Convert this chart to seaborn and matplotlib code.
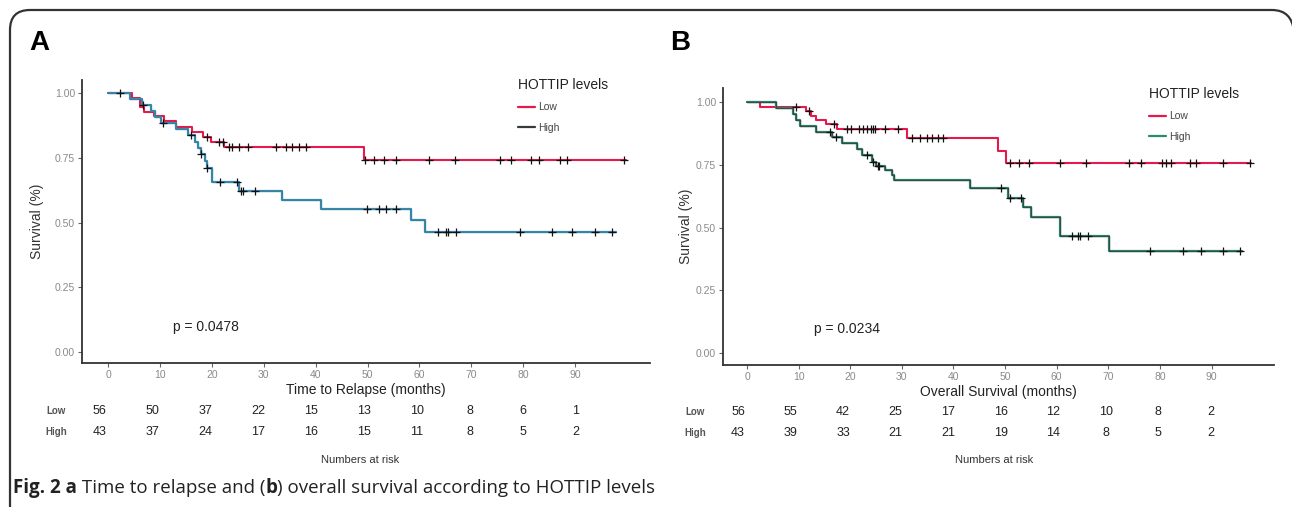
import numpy as np
import pandas as pd
import matplotlib
matplotlib.use("Agg")
import matplotlib.pyplot as plt
import seaborn as sns
import matplotlib.transforms as mtransforms
from matplotlib.lines import Line2D
from matplotlib.patches import PathPatch
from matplotlib.path import Path
from matplotlib.offsetbox import TextArea, HPacker, AnchoredOffsetbox

# ---------------- data ----------------
# Panel A: time to relapse
a_low_t = [0, 4.5, 6.1, 6.8, 8.7, 10.7, 13.0, 16.2, 18.2, 19.8, 22.3, 49.3]
a_low_s = [1.0, 0.982, 0.946, 0.928, 0.910, 0.890, 0.870, 0.850, 0.830, 0.810, 0.790, 0.740]
a_low_end = 99.9
a_low_cens = [19.0, 21.4, 22.2, 23.2, 23.9, 25.1, 26.9, 32.3, 34.3, 35.5, 36.7, 38.1,
              49.6, 51.2, 53.1, 55.5, 61.9, 66.8, 75.5, 77.6, 81.5, 83.1, 87.2, 88.5, 99.5]

a_high_t = [0, 4.2, 6.5, 8.2, 9.0, 10.2, 13.0, 15.4, 16.7, 17.3, 17.8, 18.6, 19.1, 19.9,
            25.1, 33.5, 41.1, 58.3, 61.1]
a_high_s = [1.0, 0.977, 0.953, 0.930, 0.907, 0.884, 0.860, 0.837, 0.812, 0.787, 0.764,
            0.738, 0.712, 0.655, 0.623, 0.588, 0.553, 0.508, 0.462]
a_high_end = 97.9
a_high_cens = [2.25, 6.7, 10.6, 15.9, 17.8, 19.1, 21.5, 24.8, 25.5, 25.9, 28.3, 49.9, 52.3,
               53.5, 55.5, 63.5, 65.1, 65.6, 67.1, 79.5, 85.5, 89.5, 93.9, 97.1]

# Panel B: overall survival
b_low_t = [0, 2.5, 11.4, 12.4, 13.3, 15.3, 17.5, 31.0, 48.6, 50.2]
b_low_s = [1.0, 0.982, 0.964, 0.946, 0.930, 0.912, 0.892, 0.858, 0.806, 0.756]
b_low_end = 97.7
b_low_cens = [9.4, 12.0, 16.9, 19.3, 20.1, 21.7, 22.5, 23.3, 24.1, 24.5, 24.8, 26.8, 29.2,
              32.0, 33.6, 34.8, 35.9, 37.1, 37.9, 51.0, 52.6, 54.6, 60.6, 65.7, 74.1, 76.4,
              80.4, 81.2, 82.2, 85.8, 86.9, 92.3, 97.5]

b_high_t = [0, 5.6, 8.9, 9.4, 10.2, 13.3, 16.5, 18.5, 21.3, 22.3, 24.2, 25.0, 26.8, 28.1,
            28.4, 43.3, 50.6, 53.4, 55.0, 60.6, 70.1]
b_high_s = [1.0, 0.977, 0.953, 0.930, 0.905, 0.882, 0.859, 0.835, 0.812, 0.787, 0.763,
            0.745, 0.728, 0.710, 0.689, 0.656, 0.616, 0.580, 0.543, 0.466, 0.408]
b_high_end = 95.9
b_high_cens = [16.1, 17.3, 23.3, 24.5, 25.3, 25.6, 49.3, 50.9, 53.0, 62.9, 64.1, 64.5, 66.1,
               78.0, 84.4, 87.9, 92.3, 95.5]

risk_times = [0, 10, 20, 30, 40, 50, 60, 70, 80, 90]
a_low_risk = [56, 50, 37, 22, 15, 13, 10, 8, 6, 1]
a_high_risk = [43, 37, 24, 17, 16, 15, 11, 8, 5, 2]
b_low_risk = [56, 55, 42, 25, 17, 16, 12, 10, 8, 2]
b_high_risk = [43, 39, 33, 21, 21, 19, 14, 8, 5, 2]

groups = ["Low", "High"]
x_ticks = [0, 10, 20, 30, 40, 50, 60, 70, 80, 90]
y_ticks = [0.0, 0.25, 0.5, 0.75, 1.0]
y_tick_labels = ["0.00", "0.25", "0.50", "0.75", "1.00"]
legend_title = "HOTTIP levels"
p_a = "p = 0.0478"
p_b = "p = 0.0234"
xlabel_a = "Time to Relapse (months)"
xlabel_b = "Overall Survival (months)"
ylabel = "Survival (%)"

RED = "#E5194B"
BLUE = "#3F83C0"
TEAL = "#2A8A70"
DARK = "#333B3B"

# ---------------- helpers ----------------
def step_frame(t, s, end):
    return pd.DataFrame({"t": list(t) + [end], "s": list(s) + [s[-1]]})

def censor_frame(ct, t, s):
    idx = np.searchsorted(np.asarray(t), np.asarray(ct), side="right") - 1
    return pd.DataFrame({"t": ct, "s": np.asarray(s)[idx]})

sns.set_theme(style="white")
plt.rcParams["font.family"] = ["Liberation Sans", "DejaVu Sans"]

W, H = 1292, 507
fig = plt.figure(figsize=(W / 100, H / 100), dpi=100)
fig.patch.set_facecolor("white")

def fx(px):
    return px / W

def fy(py):
    return 1 - py / H

def panel(rect_px, xlim, ylim, curves, high_legend_color, legend_px, ptext, ppos,
          xlabel, ylabelpad, risk_rect_px, risk_xlim, risk_rows, risk_y_px, nar_px, letter, letter_px):
    l, t, r, b = rect_px
    ax = fig.add_axes([fx(l), fy(b), fx(r) - fx(l), fy(t) - fy(b)])
    for (tt, ss, end, cens, layers) in curves:
        df = step_frame(tt, ss, end)
        for col, lw, al in layers:
            sns.lineplot(data=df, x="t", y="s", drawstyle="steps-post", estimator=None,
                         color=col, linewidth=lw, alpha=al, ax=ax, legend=False)
        cdf = censor_frame(cens, tt, ss)
        sns.scatterplot(data=cdf, x="t", y="s", marker="+", s=30, color="#111111",
                        linewidth=0.9, ax=ax, legend=False, zorder=5)
    ax.set_xlim(*xlim)
    ax.set_ylim(*ylim)
    ax.set_xticks(x_ticks)
    ax.set_yticks(y_ticks)
    ax.set_yticklabels(y_tick_labels)
    for sp in ["top", "right"]:
        ax.spines[sp].set_visible(False)
    for sp in ["left", "bottom"]:
        ax.spines[sp].set_color("#333333")
        ax.spines[sp].set_linewidth(1.3)
    ax.tick_params(axis="both", which="both", length=3, width=0.8, color="#666666",
                   labelsize=7.5, labelcolor="#8a8a8a", pad=2, bottom=True, left=True)
    ax.set_xlabel(xlabel, fontsize=10, color="#222222", labelpad=2)
    ax.set_ylabel(ylabel, fontsize=10, color="#333333", labelpad=ylabelpad)
    ax.text(ppos[0], ppos[1], ptext, fontsize=10, color="#222222", ha="left", va="center")

    handles = [Line2D([], [], color=RED, lw=1.6), Line2D([], [], color=high_legend_color, lw=1.6)]
    leg = ax.legend(handles, groups, title=legend_title, loc="upper left",
                    bbox_to_anchor=(fx(legend_px[0]), fy(legend_px[1])),
                    bbox_transform=fig.transFigure, frameon=False, fontsize=7.5,
                    title_fontsize=10, handlelength=1.6, handletextpad=0.3,
                    labelspacing=1.0, borderpad=0, borderaxespad=0, alignment="left")
    leg.get_title().set_color("#222222")
    for txt in leg.get_texts():
        txt.set_color("#444444")

    # risk table
    rl, rr = risk_rect_px
    rax = fig.add_axes([fx(rl), 0.0, fx(rr) - fx(rl), 0.01])
    rax.set_xlim(*risk_xlim)
    rax.axis("off")
    tr = mtransforms.blended_transform_factory(rax.transData, fig.transFigure)
    for (name, vals), ypx in zip(risk_rows, risk_y_px):
        rax.text(-8.2, fy(ypx), name, transform=tr, fontsize=7, fontweight="bold",
                 color="#555555", ha="center", va="center", clip_on=False)
        for tv, v in zip(risk_times, vals):
            rax.text(tv, fy(ypx), str(v), transform=tr, fontsize=9, color="#222222",
                     ha="center", va="center", clip_on=False)
    fig.text(fx(nar_px[0]), fy(nar_px[1]), "Numbers at risk", fontsize=8,
             color="#333333", ha="center", va="center")
    fig.text(fx(letter_px[0]), fy(letter_px[1]), letter, fontsize=20, fontweight="bold",
             color="black", ha="left", va="center")
    return ax

# Panel A
panel(rect_px=(82, 80, 650, 363), xlim=(-5.1, 104.5), ylim=(-0.042, 1.05),
      curves=[(a_low_t, a_low_s, a_low_end, a_low_cens, [(RED, 1.5, 1.0)]),
              (a_high_t, a_high_s, a_high_end, a_high_cens,
               [(BLUE, 1.6, 1.0), (TEAL, 0.9, 0.6)])],
      high_legend_color=DARK, legend_px=(518, 78), ptext=p_a, ppos=(12.4, 0.097),
      xlabel=xlabel_a, ylabelpad=8, risk_rect_px=(82, 650), risk_xlim=(-3.31, 104.1),
      risk_rows=[("Low", a_low_risk), ("High", a_high_risk)], risk_y_px=(411, 432),
      nar_px=(360, 460), letter="A", letter_px=(29, 43))

# Panel B
panel(rect_px=(723, 88, 1274, 365), xlim=(-4.65, 102.1), ylim=(-0.048, 1.056),
      curves=[(b_low_t, b_low_s, b_low_end, b_low_cens, [(RED, 1.5, 1.0)]),
              (b_high_t, b_high_s, b_high_end, b_high_cens,
               [(TEAL, 1.6, 1.0), (DARK, 1.0, 0.75)])],
      high_legend_color=TEAL, legend_px=(1149, 87), ptext=p_b, ppos=(13.0, 0.096),
      xlabel=xlabel_b, ylabelpad=2, risk_rect_px=(723, 1274), risk_xlim=(-2.85, 102.0),
      risk_rows=[("Low", b_low_risk), ("High", b_high_risk)], risk_y_px=(412, 433),
      nar_px=(994, 460), letter="B", letter_px=(670, 43))

# outer frame: left edge, rounded top-left, top edge, rounded top-right cut by canvas
frame_pts = [(10, H + 20), (10, 30), (10, 10), (30, 10), (1272, 10), (1292, 10), (1294, 32)]
frame_codes = [Path.MOVETO, Path.LINETO, Path.CURVE3, Path.CURVE3, Path.LINETO,
               Path.CURVE3, Path.CURVE3]
frame_path = Path([(x, y) for x, y in frame_pts], frame_codes)
frame = PathPatch(frame_path, fill=False, edgecolor="#333333", linewidth=1.6,
                  transform=mtransforms.Affine2D().scale(1, -1).translate(0, H) + fig.dpi_scale_trans.inverted().frozen() + fig.dpi_scale_trans)
fig.add_artist(frame)

# caption
cap_font = ["Open Sans", "DejaVu Sans"]
parts = [("Fig. 2 a", "bold"), (" Time to relapse and (", "normal"), ("b", "bold"),
         (") overall survival according to HOTTIP levels", "normal")]
areas = [TextArea(txt, textprops=dict(fontsize=13.5, fontweight=w, family=cap_font, color="#222222"))
         for txt, w in parts]
box = HPacker(children=areas, align="baseline", pad=0, sep=0)
anch = AnchoredOffsetbox(loc="center left", child=box, pad=0, frameon=False,
                         bbox_to_anchor=(fx(13), fy(488)), bbox_transform=fig.transFigure,
                         borderpad=0)
fig.add_artist(anch)

fig.savefig("out.png", dpi=100, facecolor="white")
